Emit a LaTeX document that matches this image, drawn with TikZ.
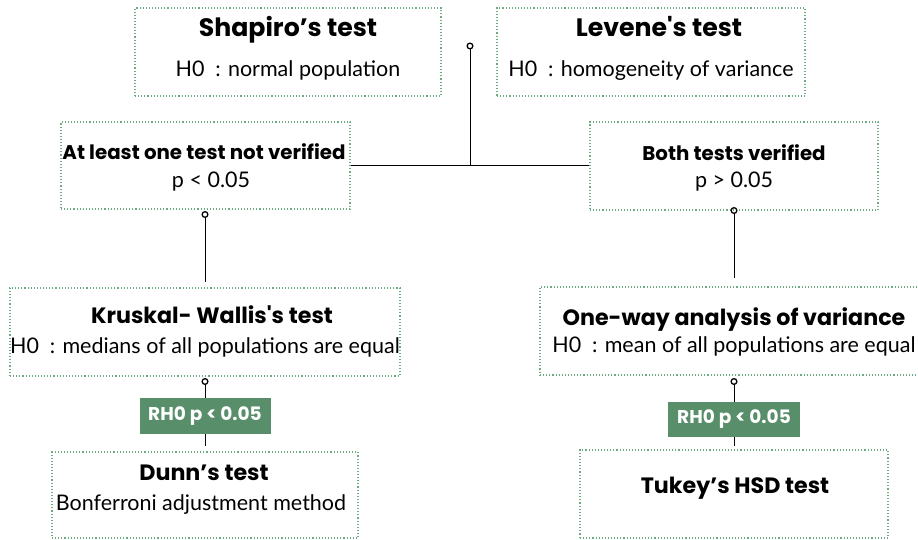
\documentclass[tikz,border=0pt]{standalone}
\usepackage{fontspec}
\setmainfont{Lato}
\newfontfamily\titlefont{Poppins}
\usetikzlibrary{arrows.meta}
\definecolor{dotgreen}{RGB}{110,170,130}
\definecolor{rhgreen}{RGB}{88,143,106}
\tikzset{
  box/.style={draw=dotgreen, line width=1.1pt, dash pattern=on 1.1pt off 2pt, rectangle, inner sep=0pt},
  bigttl/.style={anchor=base, inner sep=0pt, font=\titlefont\bfseries\fontsize{25.2}{28}\selectfont},
  midttl/.style={anchor=base, inner sep=0pt, font=\titlefont\bfseries\fontsize{22.2}{26}\selectfont},
  smallttl/.style={anchor=base, inner sep=0pt, font=\titlefont\bfseries\fontsize{19.8}{22}\selectfont},
  sub/.style={anchor=base, inner sep=0pt, font=\fontsize{21.5}{24}\selectfont},
  rh/.style={fill=rhgreen, text=white, inner sep=0pt, font=\titlefont\bfseries\fontsize{18.5}{21}\selectfont},
  conn/.style={draw=black, line width=1pt},
  dotconn/.style={conn, {Circle[open, length=7pt, width=7pt, line width=1.3pt]}-},
}
\begin{document}
\begin{tikzpicture}[x=1pt, y=-1pt]
\useasboundingbox (0,0) rectangle (918,540);
% boxes
\node[box, minimum width=306pt, minimum height=88pt] (b1) at (288,52) {};
\node[box, minimum width=308pt, minimum height=88pt] (b2) at (651,52) {};
\node[box, minimum width=289pt, minimum height=87pt] (b3) at (205.5,165.5) {};
\node[box, minimum width=288pt, minimum height=88pt] (b4) at (734,166) {};
\node[box, minimum width=390pt, minimum height=88pt] (b5) at (205,332) {};
\node[box, minimum width=388pt, minimum height=88pt] (b6) at (734,331) {};
\node[box, minimum width=306pt, minimum height=86pt] (b7) at (205,495) {};
\node[box, minimum width=308pt, minimum height=88pt] (b8) at (734,494) {};
% texts
\node[bigttl] (t1) at (288,37) {Shapiro’s test};
\node[sub] (s1) at (288,77) {H0\enspace: normal population};
\node[bigttl] (t2) at (659,37) {Levene's test};
\node[sub] (s2) at (651,77) {H0\enspace: homogeneity of variance};
\node[smallttl] (t3) at (204,160) {At least one test not verified};
\node[sub] (s3) at (211,188) {p < 0.05};
\node[smallttl] (t4) at (734,161) {Both tests verified};
\node[sub] (s4) at (734,188) {p > 0.05};
\node[midttl] (t5) at (212,323) {Kruskal- Wallis's test};
\node[sub] (s5) at (205,353) {H0\enspace: medians of all populations are equal};
\node[midttl] (t6) at (734,325) {One-way analysis of variance};
\node[sub] (s6) at (734,352) {H0\enspace: mean of all populations are equal};
\node[midttl] (t7) at (204,480) {Dunn’s test};
\node[sub] (s7) at (201,510) {Bonferroni adjustment method};
\node[midttl] (t8) at (735,493) {Tukey’s HSD test};
% green boxes
\node[rh, minimum width=131pt, minimum height=36pt] (g1) at (205,416) {RH0 p < 0.05};
\node[rh, minimum width=132pt, minimum height=35pt] (g2) at (734,419.5) {RH0 p < 0.05};
% connectors
\coordinate (top) at (470,42.5);
\coordinate (j) at (470,165.5);
\coordinate (c3) at (205,211);
\coordinate (c4) at (734,207);
\coordinate (c5) at (205,378);
\coordinate (c6) at (734,378);
\draw[dotconn] (top) -- (j);
\draw[conn] (b3.east) -- (b3.east -| b4.west);
\draw[dotconn, shorten >=5pt] (c3) -- (b5.north);
\draw[dotconn, shorten >=8pt] (c4) -- (b6.north);
\draw[dotconn] (c5) -- (g1.north);
\draw[dotconn] (c6) -- (g2.north);
\draw[conn, shorten >=5pt] (g1.south) -- (b7.north);
\draw[conn, shorten >=3pt] (g2.south) -- (b8.north);
\end{tikzpicture}
\end{document}
